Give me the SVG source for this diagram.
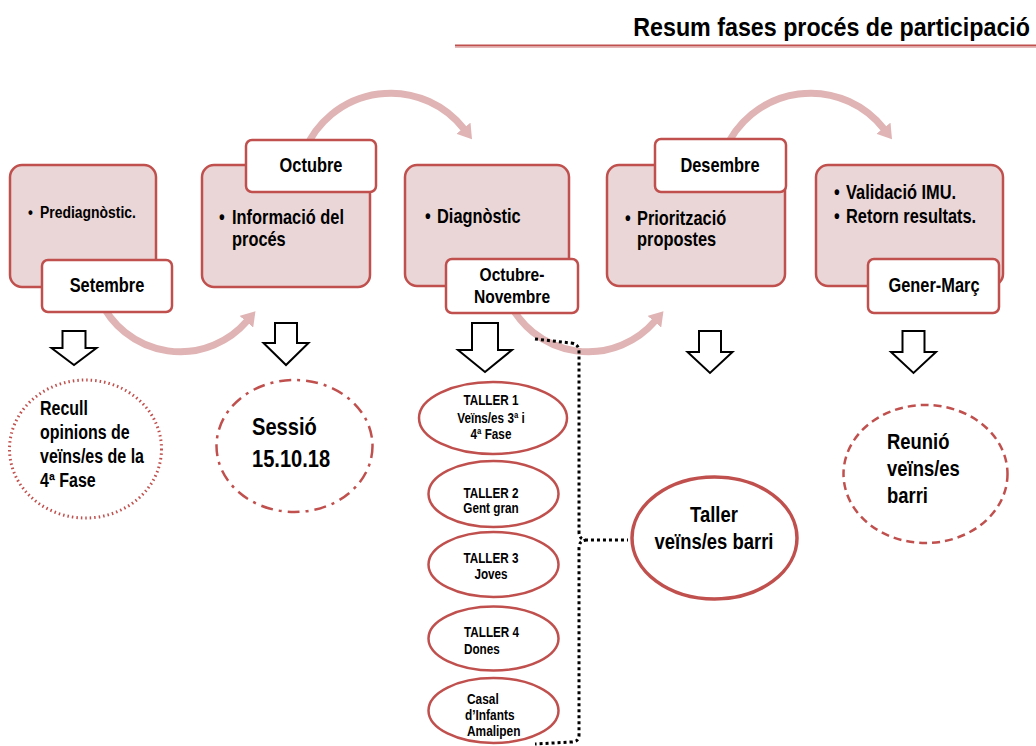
<svg xmlns="http://www.w3.org/2000/svg" width="1036" height="746" viewBox="0 0 1036 746">
<style>
.t{font-family:"Liberation Sans Narrow","Arial Narrow","Liberation Sans",Arial,sans-serif;font-weight:bold;fill:#000}
.box{fill:#ead6d6;stroke:#c0504d;stroke-width:2.5}
.lab{fill:#fff;stroke:#c0504d;stroke-width:2.5}
.arc{fill:none;stroke:#e0b4b4;stroke-width:7}
.hol{fill:#fff;stroke:#000;stroke-width:2;stroke-linejoin:miter}
.tal{fill:#fff;stroke:#c0504d;stroke-width:2.5}
.c{text-anchor:middle}
</style>
<defs>
<marker id="ah" viewBox="0 0 14 18" markerWidth="14" markerHeight="18" refX="1" refY="9" orient="auto" markerUnits="userSpaceOnUse">
<path d="M0,0 L14,9 L0,18 Z" fill="#e0b4b4"/>
</marker>
</defs>
<rect width="1036" height="746" fill="#fff"/>
<g id="title">
<text class="t" transform="translate(1030,36) scale(.895,1)" font-size="26" text-anchor="end">Resum fases procés de participació</text>
<line x1="455" y1="45.5" x2="1036" y2="45.5" stroke="#c0504d" stroke-width="2"/>
<line x1="455" y1="47.5" x2="1036" y2="47.5" stroke="#e6b8b7" stroke-width="1"/>
</g>
<g id="connectors">
<path class="arc" d="M100,300 A88,88 0 0 0 247,321" marker-end="url(#ah)"/>
<path class="arc" d="M305,150 A93,93 0 0 1 464,129" marker-end="url(#ah)"/>
<path class="arc" d="M508,300 A88,88 0 0 0 655,321" marker-end="url(#ah)"/>
<path class="arc" d="M725,150 A93,93 0 0 1 884,129" marker-end="url(#ah)"/>
<path class="hol" d="M62.5,331 H85.5 V348 H96.5 L74,365 L51.5,348 H62.5 Z"/>
<path class="hol" d="M275,323 H297 V343 H308.5 L286,365 L263.5,343 H275 Z"/>
<path class="hol" d="M472,323 H498 V350 H512 L485,372 L458,350 H472 Z"/>
<path class="hol" d="M699,331 H721 V352 H732.5 L710,373 L687.5,352 H699 Z"/>
<path class="hol" d="M902.5,331 H924.5 V352 H936 L913.5,373 L891,352 H902.5 Z"/>
<path d="M535,339 L571,343 Q579,344 579,352 L579,532 Q579,540 587,540 L628,540 M587,540 Q579,540 579,548 L579,735 Q579,742 571,742 L535,744" fill="none" stroke="#000" stroke-width="3" stroke-dasharray="3 3"/>
</g>
<g id="n1">
<rect class="box" x="10" y="165" width="146" height="122" rx="12"/>
<text class="t" transform="translate(28,218) scale(.82,1)" font-size="17">•</text>
<text class="t" transform="translate(40,218) scale(.82,1)" font-size="17">Prediagnòstic.</text>
<rect class="lab" x="42" y="260" width="130" height="52" rx="6"/>
<text class="t c" transform="translate(107,292) scale(.82,1)" font-size="20">Setembre</text>
</g>
<g id="n2">
<rect class="box" x="202" y="165" width="168" height="122" rx="12"/>
<text class="t" transform="translate(219,224) scale(.82,1)" font-size="20">•</text>
<text class="t" transform="translate(232,224) scale(.82,1)" font-size="20">Informació del</text>
<text class="t" transform="translate(232,246) scale(.82,1)" font-size="20">procés</text>
<rect class="lab" x="246" y="140" width="130" height="52" rx="6"/>
<text class="t c" transform="translate(311,172) scale(.82,1)" font-size="20">Octubre</text>
</g>
<g id="n3">
<rect class="box" x="405" y="165" width="164" height="121" rx="12"/>
<text class="t" transform="translate(425,223) scale(.82,1)" font-size="20">•</text>
<text class="t" transform="translate(437,223) scale(.82,1)" font-size="20">Diagnòstic</text>
<rect class="lab" x="446" y="259" width="132" height="54" rx="6"/>
<text class="t c" transform="translate(512,281) scale(.82,1)" font-size="19">Octubre-</text>
<text class="t c" transform="translate(512,303) scale(.82,1)" font-size="19">Novembre</text>
</g>
<g id="n4">
<rect class="box" x="607" y="165" width="178" height="121" rx="12"/>
<text class="t" transform="translate(625,225) scale(.82,1)" font-size="20">•</text>
<text class="t" transform="translate(637,225) scale(.82,1)" font-size="20">Priorització</text>
<text class="t" transform="translate(637,246) scale(.82,1)" font-size="20">propostes</text>
<rect class="lab" x="655" y="139" width="131" height="53" rx="6"/>
<text class="t c" transform="translate(720,172) scale(.82,1)" font-size="20">Desembre</text>
</g>
<g id="n5">
<rect class="box" x="816" y="165" width="187" height="121" rx="12"/>
<text class="t" transform="translate(834,199) scale(.82,1)" font-size="20">•</text>
<text class="t" transform="translate(846,199) scale(.82,1)" font-size="20">Validació IMU.</text>
<text class="t" transform="translate(834,223) scale(.82,1)" font-size="20">•</text>
<text class="t" transform="translate(846,223) scale(.82,1)" font-size="20">Retorn resultats.</text>
<rect class="lab" x="868" y="259" width="131" height="54" rx="6"/>
<text class="t c" transform="translate(934,292) scale(.82,1)" font-size="20">Gener-Març</text>
</g>
<g id="recull">
<ellipse cx="85.5" cy="449" rx="76" ry="69" fill="#fff" stroke="#c0504d" stroke-width="3" stroke-dasharray="1.5 3"/>
<text class="t" transform="translate(40,415) scale(.82,1)" font-size="19.5">Recull</text>
<text class="t" transform="translate(40,439) scale(.82,1)" font-size="19.5">opinions de</text>
<text class="t" transform="translate(40,463) scale(.82,1)" font-size="19.5">veïns/es de la</text>
<text class="t" transform="translate(40,487) scale(.82,1)" font-size="19.5">4ª Fase</text>
</g>
<g id="sessio">
<ellipse cx="294.5" cy="446" rx="78" ry="66" fill="#fff" stroke="#c0504d" stroke-width="2.5" stroke-dasharray="12 6 3 6"/>
<text class="t" transform="translate(252,435) scale(.82,1)" font-size="24.5">Sessió</text>
<text class="t" transform="translate(252,467) scale(.82,1)" font-size="24.5">15.10.18</text>
</g>
<g id="taller1">
<ellipse class="tal" cx="493" cy="418" rx="74" ry="36"/>
<text class="t c" transform="translate(491,405) scale(.82,1)" font-size="14.3">TALLER 1</text>
<text class="t c" transform="translate(491,423) scale(.82,1)" font-size="14.3">Veïns/es 3ª i</text>
<text class="t c" transform="translate(491,439) scale(.82,1)" font-size="14.3">4ª Fase</text>
</g>
<g id="taller2">
<ellipse class="tal" cx="493.5" cy="494" rx="65" ry="33"/>
<text class="t c" transform="translate(491,498) scale(.82,1)" font-size="14.3">TALLER 2</text>
<text class="t c" transform="translate(491,513) scale(.82,1)" font-size="14.3">Gent gran</text>
</g>
<g id="taller3">
<ellipse class="tal" cx="493.5" cy="564.5" rx="65" ry="32.5"/>
<text class="t c" transform="translate(491,563) scale(.82,1)" font-size="14.3">TALLER 3</text>
<text class="t c" transform="translate(491,579) scale(.82,1)" font-size="14.3">Joves</text>
</g>
<g id="taller4">
<ellipse class="tal" cx="493.5" cy="638.5" rx="65" ry="32"/>
<text class="t" transform="translate(464,637) scale(.82,1)" font-size="14.3">TALLER 4</text>
<text class="t" transform="translate(464,654) scale(.82,1)" font-size="14.3">Dones</text>
</g>
<g id="casal">
<ellipse class="tal" cx="493.5" cy="710.5" rx="65" ry="32.5"/>
<text class="t" transform="translate(467,704) scale(.82,1)" font-size="14.5">Casal</text>
<text class="t" transform="translate(465,720) scale(.82,1)" font-size="14.5">d’Infants</text>
<text class="t" transform="translate(467,736) scale(.82,1)" font-size="14.5">Amalipen</text>
</g>
<g id="tallerbarri">
<ellipse cx="714.5" cy="538" rx="82.5" ry="61" fill="#fff" stroke="#c0504d" stroke-width="3.5"/>
<text class="t c" transform="translate(714,522) scale(.82,1)" font-size="22.5">Taller</text>
<text class="t c" transform="translate(714,549) scale(.82,1)" font-size="22.5">veïns/es barri</text>
</g>
<g id="reunio">
<ellipse cx="925.5" cy="474" rx="82" ry="69" fill="#fff" stroke="#c0504d" stroke-width="2.5" stroke-dasharray="8 5"/>
<text class="t" transform="translate(887,449) scale(.82,1)" font-size="22.5">Reunió</text>
<text class="t" transform="translate(887,476) scale(.82,1)" font-size="22.5">veïns/es</text>
<text class="t" transform="translate(887,503) scale(.82,1)" font-size="22.5">barri</text>
</g>
</svg>
